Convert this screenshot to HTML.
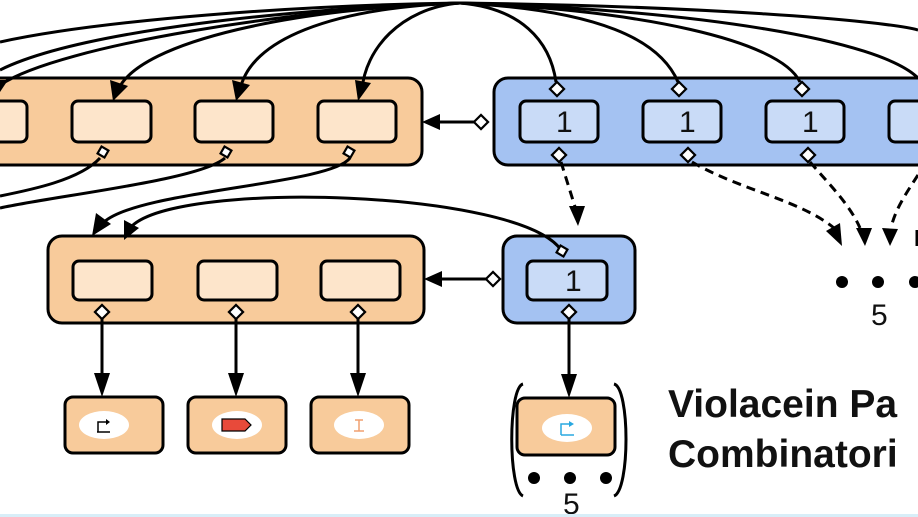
<!DOCTYPE html>
<html><head><meta charset="utf-8"><style>
html,body{margin:0;padding:0;background:#fff;width:918px;height:517px;overflow:hidden}
svg{display:block}
</style></head><body>
<svg width="918" height="517" viewBox="0 0 918 517" xmlns="http://www.w3.org/2000/svg">
<style>
.c{fill:none;stroke:#000;stroke-width:3}
.d{fill:none;stroke:#000;stroke-width:3;stroke-dasharray:9,6}
.oc{fill:#f8cb9b;stroke:#000;stroke-width:3}
.oi{fill:#fde5cb;stroke:#000;stroke-width:3}
.bc{fill:#a4c2f2;stroke:#000;stroke-width:3}
.bi{fill:#c9dbf7;stroke:#000;stroke-width:3}
.dm{fill:#fff;stroke:#000;stroke-width:2.2}
.n{font-family:"Liberation Sans",sans-serif;font-size:30px;fill:#111}
</style>

<!-- top orange container -->
<rect class="oc" x="-20" y="78" width="442" height="87" rx="14"/>
<rect class="oi" x="-20" y="101" width="47" height="41" rx="6"/>
<rect class="oi" x="72" y="101" width="79" height="41" rx="6"/>
<rect class="oi" x="195" y="101" width="78" height="41" rx="6"/>
<rect class="oi" x="318" y="101" width="78" height="41" rx="6"/>

<!-- top blue container -->
<rect class="bc" x="494" y="78" width="440" height="87" rx="14"/>
<rect class="bi" x="520" y="101" width="78" height="41" rx="6"/>
<rect class="bi" x="643" y="101" width="78" height="41" rx="6"/>
<rect class="bi" x="766" y="101" width="78" height="41" rx="6"/>
<rect class="bi" x="889" y="101" width="60" height="41" rx="6"/>
<text class="n" x="556" y="132">1</text>
<text class="n" x="679" y="132">1</text>
<text class="n" x="802" y="132">1</text>

<!-- middle orange -->
<rect class="oc" x="48" y="236" width="376" height="87" rx="14"/>
<rect class="oi" x="73" y="261" width="79" height="39" rx="6"/>
<rect class="oi" x="198" y="261" width="79" height="39" rx="6"/>
<rect class="oi" x="321" y="261" width="79" height="39" rx="6"/>
<!-- middle blue -->
<rect class="bc" x="503" y="236" width="132" height="87" rx="14"/>
<rect class="bi" x="527" y="261" width="80" height="39" rx="6"/>
<text class="n" x="565" y="291">1</text>

<!-- top fan curves -->
<path class="c" d="M460,3 C300,5 100,20 0,42"/>
<path class="c" d="M460,3 C300,8 80,30 0,70"/>
<path class="c" d="M460,3 C300,8 60,45 0,85"/>
<path class="c" d="M460,3 C300,8 140,40 118,90"/>
<path class="c" d="M460,3 C330,8 250,40 240,90"/>
<path class="c" d="M460,3 C400,8 365,50 362,90"/>
<path class="c" d="M460,3 C520,8 550,40 556,82"/>
<path class="c" d="M460,3 C600,10 660,40 678,82"/>
<path class="c" d="M460,3 C640,10 780,40 800,82"/>
<path class="c" d="M460,3 C700,10 880,40 918,78"/>
<path class="c" d="M460,3 C700,6 880,20 918,30"/>
<polygon points="113,101 110,80 128,86" fill="#000"/>
<polygon points="236,101 232,80 250,85" fill="#000"/>
<polygon points="358,101 355,80 371,83" fill="#000"/>
<polygon points="0,92 8,80 -4,80" fill="#000"/>

<!-- lower left curves -->
<path class="c" d="M100,158 C80,180 30,190 0,196"/>
<path class="c" d="M225,158 C200,180 60,195 0,208"/>
<path class="c" d="M350,158 C330,185 140,190 104,222"/>
<polygon points="92,236 96,213 111,224" fill="#000"/>
<path class="c" d="M561,250 C520,190 180,180 132,226"/>
<polygon points="124,240 124,220 139,228" fill="#000"/>

<!-- diamonds -->
<rect class="dm" x="-4" y="-4" width="8" height="8" transform="translate(103,152) rotate(30)"/>
<rect class="dm" x="-4" y="-4" width="8" height="8" transform="translate(226,152) rotate(30)"/>
<rect class="dm" x="-4" y="-4" width="8" height="8" transform="translate(349,152) rotate(30)"/>
<rect class="dm" x="-5" y="-5" width="10" height="10" transform="translate(557,89) rotate(45)"/>
<rect class="dm" x="-5" y="-5" width="10" height="10" transform="translate(679,89) rotate(45)"/>
<rect class="dm" x="-5" y="-5" width="10" height="10" transform="translate(802,89) rotate(45)"/>
<rect class="dm" x="-5" y="-5" width="10" height="10" transform="translate(559,155) rotate(45)"/>
<rect class="dm" x="-5" y="-5" width="10" height="10" transform="translate(688,155) rotate(45)"/>
<rect class="dm" x="-5" y="-5" width="10" height="10" transform="translate(808,155) rotate(45)"/>
<rect class="dm" x="-4" y="-4" width="8" height="8" transform="translate(562,251) rotate(30)"/>

<!-- horizontal arrows -->
<line class="c" x1="436" y1="122" x2="474" y2="122"/>
<polygon points="422,122 440,114 440,130" fill="#000"/>
<rect class="dm" x="-5" y="-5" width="10" height="10" transform="translate(481,122) rotate(45)"/>
<line class="c" x1="438" y1="279" x2="486" y2="279"/>
<polygon points="424,279 442,271 442,287" fill="#000"/>
<rect class="dm" x="-5" y="-5" width="10" height="10" transform="translate(493,279) rotate(45)"/>

<!-- dashed arrows -->
<path class="d" d="M561,162 L576,210"/>
<polygon points="578,226 569,206 585,206" fill="#000"/>
<path class="d" d="M692,162 C740,190 800,200 834,228"/>
<polygon points="842,246 826,231 840,223" fill="#000"/>
<path class="d" d="M810,162 C830,185 850,205 860,228"/>
<polygon points="865,246 856,228 872,228" fill="#000"/>
<path class="d" d="M918,175 C905,195 895,210 891,228"/>
<polygon points="890,246 882,228 898,229" fill="#000"/>
<line class="c" x1="917" y1="230" x2="917" y2="246"/>

<!-- dots 5 right -->
<circle cx="842" cy="282" r="6" fill="#000"/>
<circle cx="878" cy="282" r="6" fill="#000"/>
<circle cx="915" cy="282" r="6" fill="#000"/>
<text class="n" x="871" y="325">5</text>

<!-- vertical arrows -->
<line class="c" x1="102" y1="318" x2="102" y2="385"/>
<line class="c" x1="236" y1="318" x2="236" y2="385"/>
<line class="c" x1="358" y1="318" x2="358" y2="385"/>
<line class="c" x1="569" y1="318" x2="569" y2="385"/>
<polygon points="102,397 94,373 110,373" fill="#000"/>
<polygon points="236,397 228,373 244,373" fill="#000"/>
<polygon points="358,397 350,373 366,373" fill="#000"/>
<polygon points="569,398 561,374 577,374" fill="#000"/>
<rect class="dm" x="-5" y="-5" width="10" height="10" transform="translate(102,312) rotate(45)"/>
<rect class="dm" x="-5" y="-5" width="10" height="10" transform="translate(236,312) rotate(45)"/>
<rect class="dm" x="-5" y="-5" width="10" height="10" transform="translate(358,312) rotate(45)"/>
<rect class="dm" x="-5" y="-5" width="10" height="10" transform="translate(569,312) rotate(45)"/>

<!-- bottom boxes -->
<rect class="oc" x="65" y="397" width="98" height="56" rx="8"/>
<rect class="oc" x="188" y="397" width="98" height="56" rx="8"/>
<rect class="oc" x="311" y="397" width="98" height="56" rx="8"/>
<rect class="oc" x="517" y="398" width="98" height="57" rx="8"/>
<ellipse cx="104" cy="425" rx="25" ry="14" fill="#fff"/>
<ellipse cx="237" cy="425" rx="25" ry="14" fill="#fff"/>
<ellipse cx="359" cy="425" rx="25" ry="14" fill="#fff"/>
<ellipse cx="567" cy="428" rx="25" ry="14" fill="#fff"/>
<path d="M98,432 L98,422 L106,422 M110,432 L97,432" fill="none" stroke="#000" stroke-width="1.5"/>
<polygon points="106,419 110,422 106,425" fill="#000"/>
<polygon points="222,419 245,419 251,425 245,431 222,431" fill="#e84a3a" stroke="#000" stroke-width="1.2"/>
<path d="M355,420 L363,420 M359,420 L359,431 M354,431 L364,431" fill="none" stroke="#f0a070" stroke-width="1.5"/>
<path d="M561,435 L561,424 L569,424 M561,435 L574,435" fill="none" stroke="#29a8e0" stroke-width="1.5"/>
<polygon points="569,421 574,424 569,427" fill="#29a8e0"/>

<!-- brackets -->
<path d="M523,384 C508,388 508,490 523,496" fill="none" stroke="#000" stroke-width="3"/>
<path d="M614,384 C630,388 630,490 614,496" fill="none" stroke="#000" stroke-width="3"/>
<circle cx="534" cy="478" r="6" fill="#000"/>
<circle cx="570" cy="478" r="6" fill="#000"/>
<circle cx="606" cy="478" r="6" fill="#000"/>
<text class="n" x="563" y="514">5</text>

<text x="668" y="417" font-family="Liberation Sans,sans-serif" font-weight="bold" font-size="39" fill="#111">Violacein Pa</text>
<text x="668" y="467" font-family="Liberation Sans,sans-serif" font-weight="bold" font-size="39" fill="#111">Combinatori</text>

<rect x="0" y="514" width="918" height="3" fill="#d8eef8"/>
</svg>
</body></html>
